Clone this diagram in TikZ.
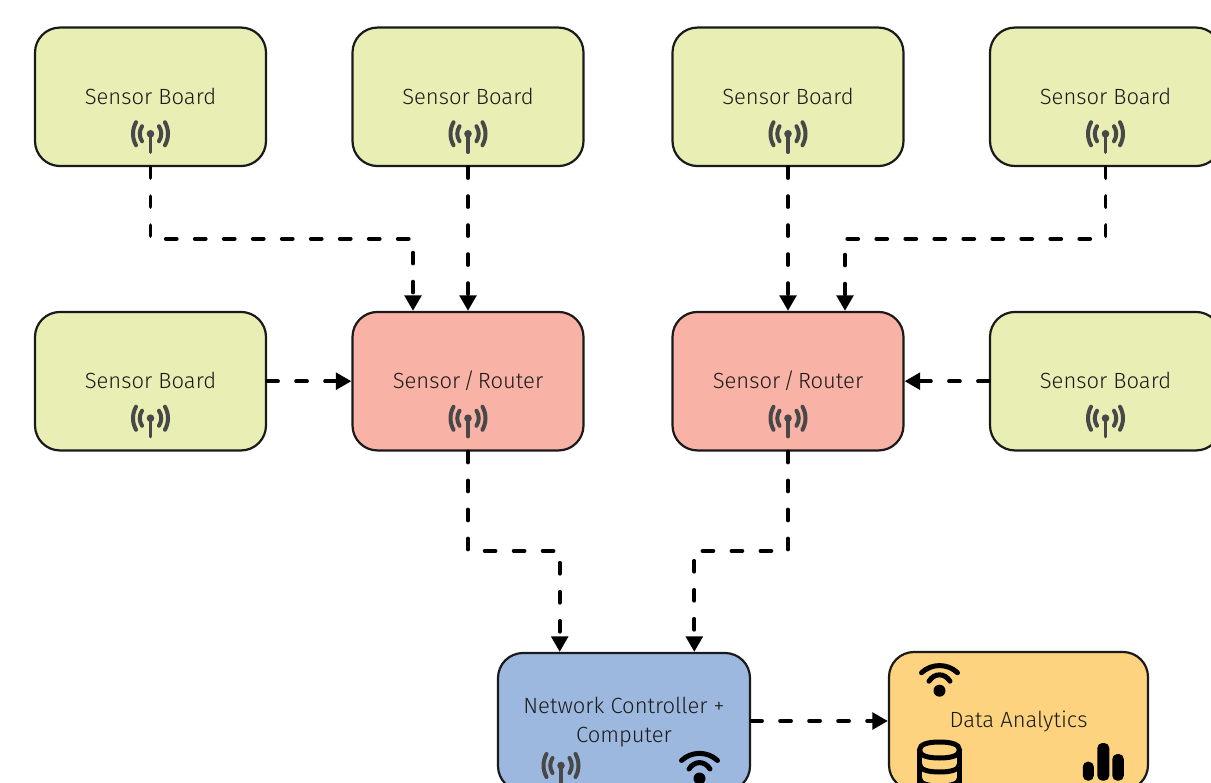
\documentclass[tikz,border=0pt]{standalone}
\usepackage{fontspec}
\setmainfont{Fira Sans Light}
\usetikzlibrary{arrows.meta,calc}
\definecolor{sensorfill}{HTML}{E8EEB4}
\definecolor{routerfill}{HTML}{F9B2A6}
\definecolor{ctrlfill}{HTML}{9DB8DF}
\definecolor{datafill}{HTML}{FDD37F}
\definecolor{edgeink}{HTML}{1A1A1A}
\definecolor{antink}{HTML}{484848}
\tikzset{
  x=1pt,y=-1pt,
  boxbase/.style={draw=edgeink,line width=2.2pt,rounded corners=25pt,align=center,inner sep=0pt,text=edgeink,font=\fontsize{22}{29}\selectfont},
  smallbox/.style={boxbase,minimum width=231pt,minimum height=138.5pt,text height=18.5pt,text depth=4pt},
  sensorbox/.style={smallbox,fill=sensorfill},
  routerbox/.style={smallbox,fill=routerfill},
  ctrlbox/.style={boxbase,fill=ctrlfill,minimum width=252pt,minimum height=138pt},
  databox/.style={boxbase,fill=datafill,minimum width=259pt,minimum height=138pt},
  link/.style={draw=black,line width=3.8pt,line cap=round,dash pattern=on 10.9pt off 18.1pt,-{Triangle[length=15.5pt,width=16.5pt,fill=black]}},
  antenna/.pic={
    \draw[antink,line width=3.4pt,line cap=round] (0,0)--(0,18.5);
    \fill[antink] (0,0) circle (3.8);
    \draw[antink,line width=4pt,line cap=round] (-8.5,-7.5) .. controls (-11.5,-2.5) and (-11.5,2.5) .. (-8.5,7.5);
    \draw[antink,line width=4pt,line cap=round] (8.5,-7.5) .. controls (11.5,-2.5) and (11.5,2.5) .. (8.5,7.5);
    \draw[antink,line width=4pt,line cap=round] (-14.5,-11.5) .. controls (-18.5,-4) and (-18.5,4) .. (-14.5,11.5);
    \draw[antink,line width=4pt,line cap=round] (14.5,-11.5) .. controls (18.5,-4) and (18.5,4) .. (14.5,11.5);
  },
  wifi/.pic={
    \fill[black] (0,0) circle (6);
    \draw[black,line width=5pt,line cap=round] (-10.5,-9.5) .. controls (-5,-18) and (5,-18) .. (10.5,-9.5);
    \draw[black,line width=5pt,line cap=round] (-18,-18) .. controls (-8,-27.5) and (8,-27.5) .. (18,-18);
  },
  dbicon/.pic={
    \draw[black,line width=5pt] (-20,-12) .. controls (-20,-18) and (-11,-20) .. (0,-20) .. controls (11,-20) and (20,-18) .. (20,-12) .. controls (20,-6) and (11,-4) .. (0,-4) .. controls (-11,-4) and (-20,-6) .. (-20,-12) -- cycle;
    \draw[black,line width=5pt] (-20,-12) -- (-20,26) (20,-12) -- (20,26);
    \draw[black,line width=5pt] (-20,2) .. controls (-20,8) and (-11,10) .. (0,10) .. controls (11,10) and (20,8) .. (20,2);
    \draw[black,line width=5pt] (-20,16) .. controls (-20,22) and (-11,24) .. (0,24) .. controls (11,24) and (20,22) .. (20,16);
  },
  barsicon/.pic={
    \fill[black,rounded corners=5pt] (-20.5,-19) rectangle (-9.5,0);
    \fill[black,rounded corners=5pt] (-6,-37.7) rectangle (6,0);
    \fill[black,rounded corners=5pt] (9,-26.7) rectangle (20.5,0);
  },
}
\newcommand{\routerlabel}{Sensor\kern-3pt{} /\kern-3pt{} Router}
\begin{document}
\begin{tikzpicture}
\useasboundingbox (0,0) rectangle (1211,783);
\clip (0,0) rectangle (1211,783);
\node[sensorbox] (s1) at (150.5,96.8) {Sensor Board};
\node[sensorbox] (s2) at (468,96.8) {Sensor Board};
\node[sensorbox] (s3) at (788,96.8) {Sensor Board};
\node[sensorbox] (s4) at (1105.5,96.8) {Sensor Board};
\node[sensorbox] (s5) at (150.5,381.2) {Sensor Board};
\node[sensorbox] (s6) at (1105.5,381.2) {Sensor Board};
\node[routerbox] (r1) at (468,381.2) {\routerlabel};
\node[routerbox] (r2) at (788,381.2) {\routerlabel};
\node[ctrlbox] (c) at (624,722) {Network Controller +\\Computer};
\node[databox] (d) at (1018.5,721) {Data Analytics};
\foreach \p in {s1,s2,s3,s4,s5,s6,r1,r2}{\pic at ($(\p.center)+(0,37)$) {antenna};}
\pic at (561,765.5) {antenna};
\pic at (699.5,778.5) {wifi};
\pic at (939.5,690.7) {wifi};
\pic at (939.5,762) {dbicon};
\pic at (1103.3,780.7) {barsicon};
\coordinate (r1a) at ($(r1.north)+(-55,0)$);
\coordinate (r2a) at ($(r2.north)+(57,0)$);
\coordinate (ca) at ($(c.north)+(-64.3,0)$);
\coordinate (cb) at ($(c.north)+(70.3,0)$);
\draw[link] (s1.south) |- ($(r1a)+(0,-72)$) -- (r1a);
\draw[link] (s2.south) -- (r1.north);
\draw[link] (s3.south) -- (r2.north);
\draw[link] (s4.south) |- ($(r2a)+(0,-72)$) -- (r2a);
\draw[link] (s5.east) -- (r1.west);
\draw[link] (s6.west) -- (r2.east);
\draw[link] (r1.south) |- ($(ca)+(0,-101)$) -- (ca);
\draw[link] (r2.south) |- ($(cb)+(0,-101)$) -- (cb);
\draw[link] (c.east|-d.west) -- (d.west);
\end{tikzpicture}
\end{document}
